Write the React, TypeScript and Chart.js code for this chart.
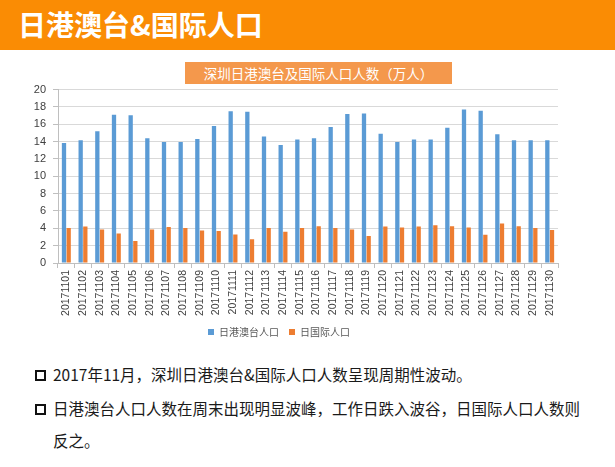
import React, { useEffect, useRef } from "react";
import { Chart, registerables } from "chart.js";

Chart.register(...registerables);

const pageTitle = "日港澳台&国际人口";
const chartTitle = "深圳日港澳台及国际人口人数（万人）";

const categories = [
  "20171101", "20171102", "20171103", "20171104", "20171105", "20171106",
  "20171107", "20171108", "20171109", "20171110", "20171111", "20171112",
  "20171113", "20171114", "20171115", "20171116", "20171117", "20171118",
  "20171119", "20171120", "20171121", "20171122", "20171123", "20171124",
  "20171125", "20171126", "20171127", "20171128", "20171129", "20171130",
];

const seriesNames = ["日港澳台人口", "日国际人口"];

const hkMacauTaiwan = [
  13.85, 14.15, 15.2, 17.1, 17.05, 14.4, 13.95, 13.95, 14.3, 15.8,
  17.5, 17.45, 14.6, 13.6, 14.25, 14.4, 15.7, 17.2, 17.25, 14.9,
  13.95, 14.25, 14.25, 15.6, 17.7, 17.55, 14.85, 14.15, 14.15, 14.15,
];

const international = [
  4.05, 4.2, 3.85, 3.4, 2.55, 3.85, 4.15, 4.05, 3.75, 3.7,
  3.3, 2.75, 4.05, 3.6, 4.05, 4.25, 4.05, 3.85, 3.1, 4.2,
  4.1, 4.2, 4.35, 4.25, 4.1, 3.25, 4.55, 4.25, 4.05, 3.8,
];

const yMin = 0;
const yMax = 20;
const yStep = 2;

const bullets = [
  ["2017年11月，深圳日港澳台&国际人口人数呈现周期性波动。"],
  ["日港澳台人口人数在周末出现明显波峰，工作日跌入波谷，日国际人口人数则", "反之。"],
];

const BLUE = "#5B9BD5";
const ORANGE = "#ED7D31";

function BarChart() {
  const ref = useRef<HTMLCanvasElement | null>(null);
  useEffect(() => {
    if (!ref.current) return;
    const chart = new Chart(ref.current, {
      type: "bar",
      data: {
        labels: categories,
        datasets: [
          {
            label: seriesNames[0],
            data: hkMacauTaiwan,
            backgroundColor: BLUE,
            borderWidth: 0,
            categoryPercentage: 0.56,
            barPercentage: 0.92,
          },
          {
            label: seriesNames[1],
            data: international,
            backgroundColor: ORANGE,
            borderWidth: 0,
            categoryPercentage: 0.56,
            barPercentage: 0.92,
          },
        ],
      },
      options: {
        animation: false,
        responsive: false,
        maintainAspectRatio: false,
        layout: { padding: { top: 9, right: 57, left: 0, bottom: 0 } },
        plugins: {
          tooltip: { enabled: false },
          title: { display: false },
          legend: {
            display: true,
            position: "bottom",
            labels: {
              boxWidth: 6,
              boxHeight: 6,
              padding: 10,
              color: "#595959",
              font: { family: "'Noto Sans CJK SC', sans-serif", size: 10 },
            },
          },
        },
        scales: {
          x: {
            afterFit: (s: any) => {
              s.height = 54;
            },
            grid: {
              display: true,
              drawOnChartArea: false,
              drawTicks: true,
              tickLength: 5,
              color: "#bfbfbf",
              offset: true,
            },
            border: { display: true, color: "#bfbfbf" },
            ticks: {
              autoSkip: false,
              minRotation: 90,
              maxRotation: 90,
              padding: 2,
              color: "#404040",
              font: { family: "'Liberation Sans', Arial, sans-serif", size: 10.5 },
            },
          },
          y: {
            min: yMin,
            max: yMax,
            afterFit: (s: any) => {
              s.width = 58;
            },
            grid: {
              color: "#d9d9d9",
              drawTicks: true,
              tickLength: 5,
              tickColor: "#bfbfbf",
            },
            border: { display: true, color: "#bfbfbf" },
            ticks: {
              stepSize: yStep,
              autoSkip: false,
              padding: 7,
              color: "#404040",
              font: { family: "'Liberation Sans', Arial, sans-serif", size: 11 },
            },
          },
        },
      },
    });
    return () => chart.destroy();
  }, []);
  return (
    <canvas
      ref={ref}
      width={615}
      height={271}
      style={{ position: "absolute", left: 0, top: 76, width: 615, height: 271 }}
    />
  );
}

export default function App() {
  return (
    <div
      style={{
        position: "relative",
        width: 615,
        height: 467,
        background: "#ffffff",
        overflow: "hidden",
        fontFamily: "'Noto Sans CJK SC', sans-serif",
      }}
    >
      <style>{"body{margin:0;}"}</style>
      <div
        style={{
          position: "absolute",
          left: 0,
          top: 0,
          width: 615,
          height: 50,
          background: "#FA8C04",
        }}
      />
      <div
        style={{
          position: "absolute",
          left: 18,
          top: -1,
          height: 50,
          lineHeight: "50px",
          color: "#ffffff",
          fontSize: 28,
          fontWeight: 700,
          whiteSpace: "nowrap",
        }}
      >
        {pageTitle}
      </div>
      <div
        style={{
          position: "absolute",
          left: 185,
          top: 62,
          width: 267,
          height: 22,
          background: "#F4984C",
          color: "#ffffff",
          fontSize: 13.5,
          lineHeight: "22px",
          textAlign: "center",
          whiteSpace: "nowrap",
        }}
      >
        {chartTitle}
      </div>
      <BarChart />
      {bullets.map((lines, i) => (
        <div key={i}>
          <div
            style={{
              position: "absolute",
              left: 35,
              top: (i === 0 ? 375 : 409) - 5,
              width: 7,
              height: 7,
              border: "2px solid #111",
            }}
          />
          {lines.map((ln, j) => (
            <div
              key={j}
              style={{
                position: "absolute",
                left: 53,
                top: (i === 0 ? 375 : 409) + j * 32 - 17,
                height: 32,
                lineHeight: "32px",
                fontSize: 15.5,
                color: "#1a1a1a",
                whiteSpace: "nowrap",
              }}
            >
              {ln}
            </div>
          ))}
        </div>
      ))}
    </div>
  );
}
